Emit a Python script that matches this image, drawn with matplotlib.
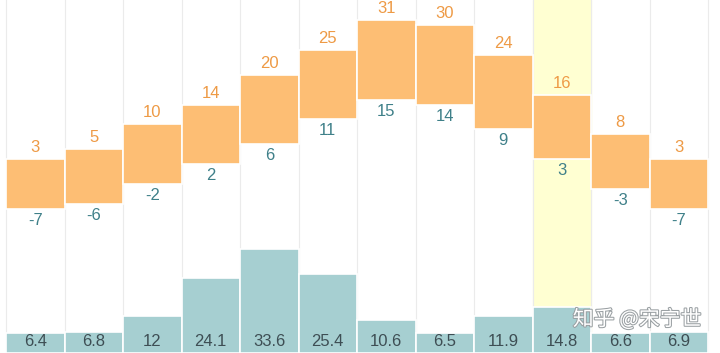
import numpy as np
import matplotlib.pyplot as plt
import matplotlib.patheffects as pe

plt.rcParams['font.family'] = ['Liberation Sans', 'DejaVu Sans']

# Monthly climate data
months = np.arange(12)
temp_high = [3, 5, 10, 14, 20, 25, 31, 30, 24, 16, 8, 3]
temp_low = [-7, -6, -2, 2, 6, 11, 15, 14, 9, 3, -3, -7]
precip = [6.4, 6.8, 12, 24.1, 33.6, 25.4, 10.6, 6.5, 11.9, 14.8, 6.6, 6.9]
precip_labels = ['6.4', '6.8', '12', '24.1', '33.6', '25.4', '10.6', '6.5', '11.9', '14.8', '6.6', '6.9']
highlight = 9

orange = '#FDBE74'
teal = '#A6CFD1'

fig = plt.figure(figsize=(7.2, 3.53), dpi=100)

# precipitation axes (behind)
ax_p = fig.add_axes([0, 0, 1, 1])
# temperature axes (front)
ax_t = fig.add_axes([0, 0, 1, 1])
ax_t.patch.set_alpha(0)

xlim = (-0.603, 11.705)
for ax in (ax_p, ax_t):
    ax.set_xlim(*xlim)
    ax.axis('off')

ax_p.set_ylim(0, 113.9)
ax_t.set_ylim(-36.0, 35.05)

# highlight column and vertical gridlines
ax_p.axvspan(highlight - 0.5, highlight + 0.5, color='#FFFFD2', zorder=0)
for b in np.arange(-0.5, 12.0, 1.0):
    ax_p.axvline(b, color='#EBEBEB', lw=0.8, zorder=0.5)

# precipitation bars
ax_p.bar(months, precip, width=1.0, color=teal, edgecolor='white', linewidth=1.2, zorder=2)
for x, lab in zip(months, precip_labels):
    ax_p.text(x, 3.8, lab, ha='center', va='center', fontsize=12, color='#3E4E54', zorder=3)

# temperature range bars
heights = np.array(temp_high) - np.array(temp_low)
ax_t.bar(months, heights, bottom=temp_low, width=1.0, color=orange,
         edgecolor='white', linewidth=1.2, zorder=2)
for x, hi, lo in zip(months, temp_high, temp_low):
    ax_t.text(x, hi + 0.8, str(hi), ha='center', va='bottom', fontsize=12, color='#EE9A45')
    ax_t.text(x, lo - 0.8, str(lo), ha='center', va='top', fontsize=12, color='#3F8089')

# watermark
fig.text(0.885, 0.095, '知乎 @宋宁世', ha='center', va='center', fontsize=15,
         family=['Noto Sans CJK SC', 'DejaVu Sans'], color='white',
         path_effects=[pe.withStroke(linewidth=1.5, foreground='#9AA0A3')])

fig.savefig('out.png', dpi=100)
